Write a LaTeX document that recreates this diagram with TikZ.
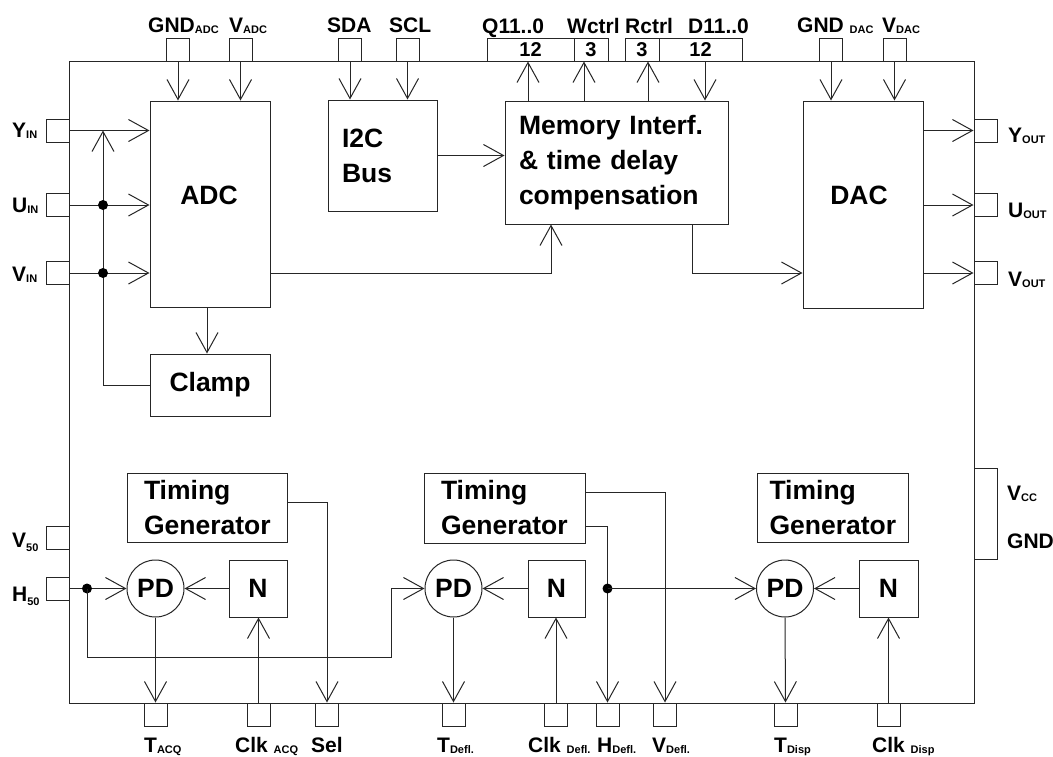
\documentclass[tikz,border=0pt]{standalone}
\usepackage{fontspec}
\setmainfont{Liberation Sans}
\usetikzlibrary{arrows.meta,calc}
\newcommand\sbs[1]{\raisebox{-1pt}{\fontsize{11}{11}\selectfont #1}}
\newcommand\sbl[1]{\raisebox{-4pt}{\fontsize{11}{11}\selectfont #1}}
\newcommand\blkf{\bfseries\fontsize{26.5}{35}\selectfont}
\begin{document}
\begin{tikzpicture}[x=1pt,y=-1pt,
  ln/.style={line width=1pt, draw=black!85},
  arr/.style={ln, -{Straight Barb[length=20pt,width=22pt,line width=1pt]}},
  blk/.style={draw=black!85, line width=1pt, inner sep=0pt, font=\blkf},
  pin/.style={draw=black!85, line width=1pt, minimum width=23pt, minimum height=23pt, inner sep=0pt, fill=white},
  bus/.style={pin, font=\fontsize{20}{20}\selectfont\bfseries},
  lab/.style={anchor=base west, inner sep=0pt, font=\fontsize{21}{21}\selectfont\bfseries},
  dot/.style={fill=black}
]
\useasboundingbox (0,0) rectangle (1053,756);
\fill[white] (0,0) rectangle (1053,756);
% frame
\draw[ln] (69,61) rectangle (974.5,703);

% blocks
\node[blk, minimum width=120pt, minimum height=206pt] (adc) at (210,204) {};
\node[font=\blkf, inner sep=0pt] (adct) at (209,195) {ADC};
\node[blk, minimum width=109pt, minimum height=111pt, text width=81pt, align=left] (i2c) at (382.5,155.5) {I2C\\Bus};
\node[blk, minimum width=223pt, minimum height=123pt, text width=195pt, align=left] (mem) at (616.5,162.5) {Memory Interf.\\\& time delay\\compensation};
\node[blk, minimum width=120pt, minimum height=207pt] (dac) at (863,204.5) {};
\node[font=\blkf, inner sep=0pt] (dact) at (859,195) {DAC};
\node[blk, minimum width=120pt, minimum height=62pt] (clamp) at (210,385) {Clamp};
\node[blk, minimum width=160pt, minimum height=69pt, text width=126pt, align=left] (tg1) at (207,507.5) {Timing\\Generator};
\node[blk, minimum width=161pt, minimum height=70pt, text width=127pt, align=left] (tg2) at (504.5,508) {Timing\\Generator};
\node[blk, minimum width=151pt, minimum height=69pt, text width=126pt, align=left] (tg3) at (832.5,507.5) {Timing\\Generator};
\node[blk, circle, minimum size=57pt] (pd1) at (155.5,588.5) {PD};
\node[blk, circle, minimum size=57pt] (pd2) at (453.5,588.5) {PD};
\node[blk, circle, minimum size=57pt] (pd3) at (785,588.5) {PD};
\node[blk, minimum width=58pt, minimum height=57pt] (n1) at (258,588.5) {N};
\node[blk, minimum width=57pt, minimum height=57pt] (n2) at (556.5,588.5) {N};
\node[blk, minimum width=59pt, minimum height=57pt] (n3) at (888.5,588.5) {N};

% pins top
\node[pin] (gnda) at (178,49.5) {};
\node[pin] (vadc) at (240.5,49.5) {};
\node[pin] (sda) at (350,49.5) {};
\node[pin] (scl) at (407.5,49.5) {};
\node[pin] (gndd) at (831,49.5) {};
\node[pin] (vdac) at (894.5,49.5) {};
\node[bus, minimum width=87pt] (qb) at (530.5,49.5) {12};
\node[bus, minimum width=34pt] (wb) at (591,49.5) {3};
\node[bus, minimum width=34pt] (rb) at (642,49.5) {3};
\node[bus, minimum width=83pt] (db) at (700.5,49.5) {12};
% pins left
\node[pin] (yin) at (57.5,130.5) {};
\node[pin] (uin) at (57.5,205) {};
\node[pin] (vin) at (57.5,273) {};
\node[pin] (v50) at (57.5,537.5) {};
\node[pin] (h50) at (57.5,588.5) {};
% pins right
\node[pin] (yout) at (985.5,130.5) {};
\node[pin] (uout) at (985.5,205) {};
\node[pin] (vout) at (985.5,273) {};
\node[pin, minimum height=91pt] (vcc) at (985.5,513.5) {};
% pins bottom
\node[pin] (tacq) at (155.5,714.5) {};
\node[pin] (clka) at (258.5,714.5) {};
\node[pin] (sel) at (327,714.5) {};
\node[pin] (tdefl) at (453.5,714.5) {};
\node[pin] (clkd) at (556,714.5) {};
\node[pin] (hdefl) at (607.5,714.5) {};
\node[pin] (vdefl) at (665,714.5) {};
\node[pin] (tdisp) at (785.5,714.5) {};
\node[pin] (clkdisp) at (888.5,714.5) {};

% labels
\node[lab] (lgnda) at (148,32) {GND\sbs{ADC}};
\node[lab] (lvadc) at (229,32) {V\sbs{ADC}};
\node[lab] (lsda) at (327,32) {SDA};
\node[lab] (lscl) at (389,32) {SCL};
\node[lab] (lq) at (482,33) {Q11..0};
\node[lab] (lw) at (567,33) {Wctrl};
\node[lab] (lr) at (625,33) {Rctrl};
\node[lab] (ld) at (688,33) {D11..0};
\node[lab] (lgndd) at (797,32) {GND \sbs{DAC}};
\node[lab] (lvdac) at (882,32) {V\sbs{DAC}};
\node[lab] (lyin) at (12,137.5) {Y\sbs{IN}};
\node[lab] (luin) at (12,212.5) {U\sbs{IN}};
\node[lab] (lvin) at (12,281) {V\sbs{IN}};
\node[lab] (lv50) at (12,547) {V\sbl{50}};
\node[lab] (lh50) at (12,601) {H\sbl{50}};
\node[lab] (lyout) at (1008,142) {Y\sbs{OUT}};
\node[lab] (luout) at (1008,217) {U\sbs{OUT}};
\node[lab] (lvout) at (1008,286) {V\sbs{OUT}};
\node[lab] (lvcc) at (1007,500) {V\sbs{CC}};
\node[lab] (lgnd) at (1007,548) {GND};
\node[lab] (ltacq) at (144,752) {T\sbs{ACQ}};
\node[lab] (lclka) at (235,752) {Clk \sbs{ACQ}};
\node[lab] (lsel) at (311,752) {Sel};
\node[lab] (ltdefl) at (437,752) {T\sbs{Defl.}};
\node[lab] (lclkd) at (528,752) {Clk \sbs{Defl.}};
\node[lab] (lhdefl) at (597,752) {H\sbs{Defl.}};
\node[lab] (lvdefl) at (652,752) {V\sbs{Defl.}};
\node[lab] (ltdisp) at (774,752) {T\sbs{Disp}};
\node[lab] (lclkdisp) at (872,752) {Clk \sbs{Disp}};

% coordinates
\coordinate (qx) at (528,0);
\coordinate (wx) at (584,0);
\coordinate (rx) at (648,0);
\coordinate (dx) at (705,0);
\coordinate (acx) at (207,0);
\coordinate (jy) at (103,130.5);
\coordinate (ju) at (103,205);
\coordinate (jv) at (103,273);
\coordinate (a2m) at (551,273);
\coordinate (m2d) at (692,273);
\coordinate (jh) at (87,588.5);
\coordinate (lp) at (391,657);
\coordinate (jh2) at (607.5,588.5);

% top connectors
\draw[arr] (gnda.south) -- (adc.north -| gnda.south);
\draw[arr] (vadc.south) -- (adc.north -| vadc.south);
\draw[arr] (sda.south) -- (i2c.north -| sda.south);
\draw[arr] (scl.south) -- (i2c.north -| scl.south);
\draw[arr] (gndd.south) -- (dac.north -| gndd.south);
\draw[arr] (vdac.south) -- (dac.north -| vdac.south);
\draw[arr] (mem.north -| qx) -- (qb.south -| qx);
\draw[arr] (mem.north -| wx) -- (wb.south -| wx);
\draw[arr] (mem.north -| rx) -- (rb.south -| rx);
\draw[arr] (db.south -| dx) -- (mem.north -| dx);
\draw[arr] (i2c.east) -- (mem.west |- i2c.east);
\draw[arr] (adc.east |- a2m) -| (mem.south -| a2m);
\draw[arr] (mem.south -| m2d) |- (dac.west |- m2d);
% inputs
\draw[arr] (yin.east) -- (adc.west |- yin.east);
\draw[arr] (uin.east) -- (adc.west |- uin.east);
\draw[arr] (vin.east) -- (adc.west |- vin.east);
\draw[arr] (clamp.west) -| (jy);
\fill[dot] (ju) circle (5pt);
\fill[dot] (jv) circle (5pt);
\draw[arr] (adc.south -| acx) -- (clamp.north -| acx);
% outputs
\draw[arr] (dac.east |- yout.west) -- (yout.west);
\draw[arr] (dac.east |- uout.west) -- (uout.west);
\draw[arr] (dac.east |- vout.west) -- (vout.west);

% bottom
\draw[arr] (h50.east) -- (pd1.west);
\fill[dot] (jh) circle (5pt);
\draw[arr] (n1.west) -- (pd1.east);
\draw[arr] (clka.north) -- (n1.south -| clka.north);
\draw[arr] (pd1.south) -- (tacq.north);
\draw[arr] (jh) |- (lp) |- (pd2.west);
\draw[arr] ([yshift=5.5pt]tg1.east) -| (sel.north);

\draw[arr] (n2.west) -- (pd2.east);
\draw[arr] (clkd.north) -- (n2.south -| clkd.north);
\draw[arr] (pd2.south) -- (tdefl.north);
\draw[arr] ([yshift=16pt]tg2.east) -| (vdefl.north);
\draw[arr] ([yshift=-18pt]tg2.east) -| (hdefl.north);
\fill[dot] (jh2) circle (5pt);
\draw[arr] (jh2) -- (pd3.west);

\draw[arr] (n3.west) -- (pd3.east);
\draw[arr] (clkdisp.north) -- (n3.south -| clkdisp.north);
\draw[arr] (pd3.south) -- (tdisp.north);
\end{tikzpicture}
\end{document}
